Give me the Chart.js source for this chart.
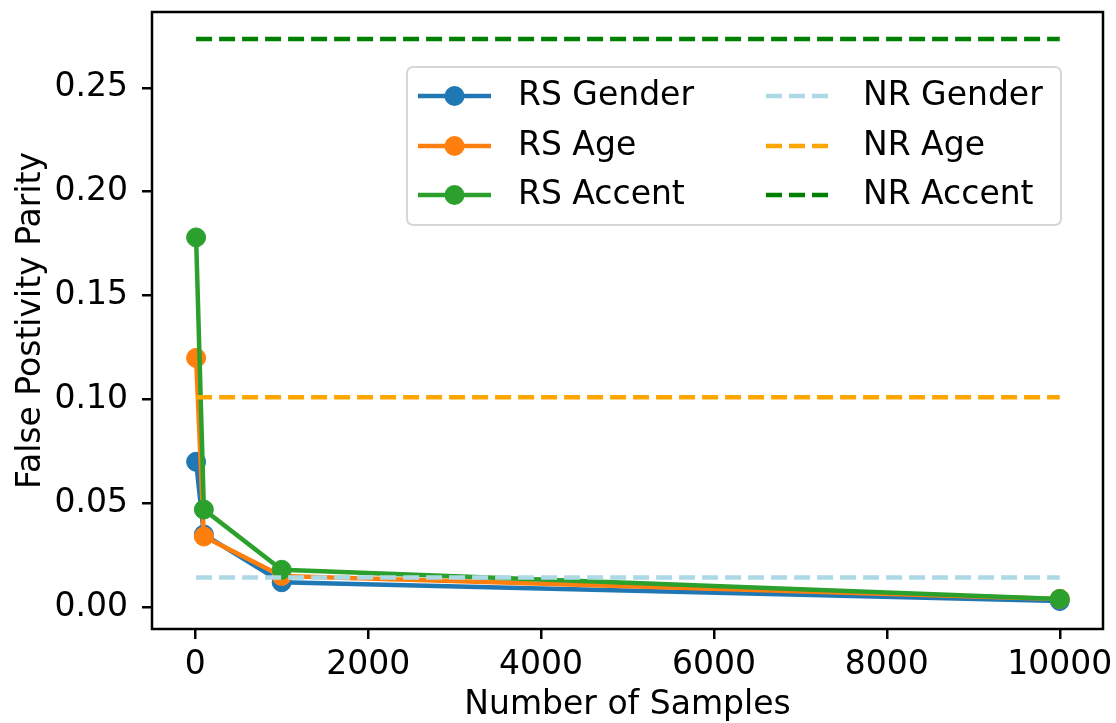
<!DOCTYPE html>
<html lang="en">
<head>
    <meta charset="UTF-8">
    <title>False Postivity Parity</title>
    <script src="https://cdn.jsdelivr.net/npm/chart.js"></script>
    <style>
        body { margin: 0; background: #fff; }
    </style>
</head>
<body>
    <canvas id="fppChart" width="1116" height="723"></canvas>

    <script>
        // data
        const sampleSizes = [10, 100, 1000, 10000];
        const rsGender = [0.070, 0.035, 0.012, 0.003];
        const rsAge = [0.120, 0.034, 0.015, 0.004];
        const rsAccent = [0.178, 0.047, 0.018, 0.004];

        const nrSpan = [10, 10000];
        const nrGender = [0.0143, 0.0143];
        const nrAge = [0.101, 0.101];
        const nrAccent = [0.2735, 0.2735];

        const xTicks = [0, 2000, 4000, 6000, 8000, 10000];
        const yTicks = [0, 0.05, 0.10, 0.15, 0.20, 0.25];

        const FONT = "'DejaVu Sans', sans-serif";
        const FONT_SIZE = 33;
        const DASH = [16, 7];

        function toPoints(xs, ys) {
            return xs.map((x, i) => ({ x: x, y: ys[i] }));
        }

        function rsSet(label, values, color, order) {
            return {
                label: label,
                data: toPoints(sampleSizes, values),
                borderColor: color,
                backgroundColor: color,
                borderWidth: 4.5,
                pointRadius: 9.5,
                pointBorderWidth: 1,
                pointBackgroundColor: color,
                pointBorderColor: color,
                showLine: true,
                order: order
            };
        }

        function nrSet(label, values, color, order) {
            return {
                label: label,
                data: toPoints(nrSpan, values),
                borderColor: color,
                backgroundColor: color,
                borderWidth: 4.5,
                borderDash: DASH,
                pointRadius: 0,
                showLine: true,
                order: order,
                isDashed: true
            };
        }

        // box around the plot area
        const framePlugin = {
            id: "frame",
            afterDatasetsDraw(chart) {
                const { ctx, chartArea: a } = chart;
                ctx.save();
                ctx.strokeStyle = "#000";
                ctx.lineWidth = 2.5;
                ctx.strokeRect(a.left, a.top, a.right - a.left, a.bottom - a.top);
                ctx.restore();
            }
        };

        // two-column legend in the upper right, matplotlib style
        const legendPlugin = {
            id: "mplLegend",
            afterDraw(chart) {
                const { ctx, chartArea: a } = chart;
                const boxRight = a.right - 42;
                const boxLeft = boxRight - 654;
                const boxTop = a.top + 55;
                const boxH = 158;
                ctx.save();
                ctx.beginPath();
                ctx.roundRect(boxLeft, boxTop, boxRight - boxLeft, boxH, 6);
                ctx.fillStyle = "rgba(255,255,255,0.8)";
                ctx.fill();
                ctx.strokeStyle = "#d6d6d6";
                ctx.lineWidth = 2;
                ctx.stroke();

                const rows = [29, 79, 128];
                const cols = [
                    { h0: boxLeft + 11, h1: boxLeft + 84, text: boxLeft + 111 },
                    { h0: boxLeft + 359, h1: boxLeft + 427, text: boxLeft + 456 }
                ];
                ctx.font = FONT_SIZE + "px " + FONT;
                ctx.textBaseline = "middle";
                ctx.textAlign = "left";
                chart.data.datasets.forEach((ds, i) => {
                    const col = cols[Math.floor(i / 3)];
                    const y = boxTop + rows[i % 3];
                    ctx.strokeStyle = ds.borderColor;
                    ctx.lineWidth = 4.5;
                    ctx.setLineDash(ds.isDashed ? DASH : []);
                    ctx.beginPath();
                    ctx.moveTo(col.h0, y);
                    ctx.lineTo(col.h1, y);
                    ctx.stroke();
                    ctx.setLineDash([]);
                    if (!ds.isDashed) {
                        ctx.fillStyle = ds.borderColor;
                        ctx.beginPath();
                        ctx.arc((col.h0 + col.h1) / 2, y, 10, 0, Math.PI * 2);
                        ctx.fill();
                    }
                    ctx.fillStyle = "#000";
                    ctx.fillText(ds.label, col.text, y);
                });
                ctx.restore();
            }
        };

        const ctx = document.getElementById("fppChart").getContext("2d");
        new Chart(ctx, {
            type: "scatter",
            data: {
                datasets: [
                    rsSet("RS Gender", rsGender, "#1f77b4", 6),
                    rsSet("RS Age", rsAge, "#ff7f0e", 5),
                    rsSet("RS Accent", rsAccent, "#2ca02c", 4),
                    nrSet("NR Gender", nrGender, "#add8e6", 3),
                    nrSet("NR Age", nrAge, "#ffa500", 2),
                    nrSet("NR Accent", nrAccent, "#008000", 1)
                ]
            },
            options: {
                responsive: false,
                animation: false,
                layout: { padding: { top: 12, right: 13, left: 0, bottom: 0 } },
                plugins: {
                    legend: { display: false },
                    tooltip: { enabled: false }
                },
                scales: {
                    x: {
                        type: "linear",
                        min: -500,
                        max: 10500,
                        afterBuildTicks: (scale) => { scale.ticks = xTicks.map(v => ({ value: v })); },
                        afterFit: (scale) => {
                            scale.height = 94;
                            scale.paddingLeft = 0;
                            scale.paddingRight = 0;
                        },
                        grid: { drawOnChartArea: false, drawTicks: true, tickLength: 10, color: "#000", lineWidth: 2.5 },
                        border: { display: false },
                        ticks: {
                            color: "#000",
                            font: { family: FONT, size: FONT_SIZE },
                            padding: 7,
                            maxRotation: 0,
                            callback: (v) => String(v)
                        },
                        title: {
                            display: true,
                            text: "Number of Samples",
                            color: "#000",
                            font: { family: FONT, size: FONT_SIZE },
                            padding: { top: 0, bottom: -2 }
                        }
                    },
                    y: {
                        type: "linear",
                        min: -0.0105,
                        max: 0.2865,
                        afterBuildTicks: (scale) => { scale.ticks = yTicks.map(v => ({ value: v })); },
                        afterFit: (scale) => {
                            scale.width = 152;
                            scale.paddingTop = 0;
                            scale.paddingBottom = 0;
                        },
                        grid: { drawOnChartArea: false, drawTicks: true, tickLength: 10, color: "#000", lineWidth: 2.5 },
                        border: { display: false },
                        ticks: {
                            color: "#000",
                            font: { family: FONT, size: FONT_SIZE },
                            padding: 14,
                            callback: (v) => v.toFixed(2)
                        },
                        title: {
                            display: true,
                            text: "False Postivity Parity",
                            color: "#000",
                            font: { family: FONT, size: FONT_SIZE },
                            padding: { top: 12, bottom: 0 }
                        }
                    }
                }
            },
            plugins: [framePlugin, legendPlugin]
        });
    </script>
</body>
</html>
